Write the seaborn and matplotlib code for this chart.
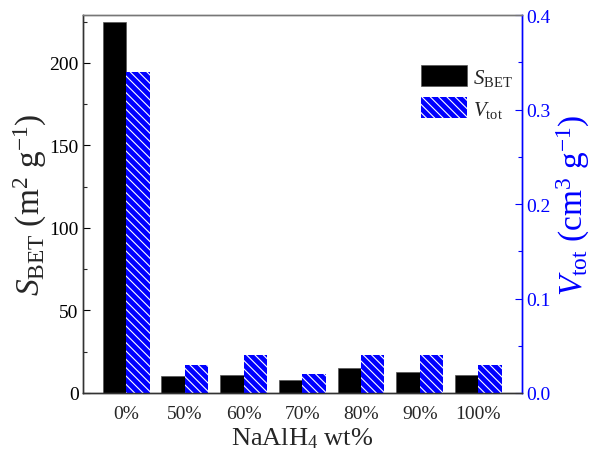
import matplotlib
matplotlib.use("Agg")
import matplotlib.pyplot as plt
import seaborn as sns
import pandas as pd
import numpy as np
from matplotlib.patches import Patch
from matplotlib.ticker import MultipleLocator

categories = ["0%", "50%", "60%", "70%", "80%", "90%", "100%"]
s_bet = [225, 10, 11, 8, 15, 13, 11]
v_tot = [0.34, 0.03, 0.04, 0.02, 0.04, 0.04, 0.03]

sns.set_theme(style="white")
plt.rcParams["font.family"] = ["Liberation Serif", "DejaVu Serif"]
plt.rcParams["mathtext.fontset"] = "custom"
plt.rcParams["mathtext.rm"] = "Liberation Serif"
plt.rcParams["mathtext.it"] = "Liberation Serif:italic"
plt.rcParams["hatch.color"] = "white"
plt.rcParams["hatch.linewidth"] = 0.8

BLUE = "#0000FF"

dfS = pd.DataFrame({"cat": categories, "val": s_bet, "series": "S"})
dfV = pd.DataFrame({"cat": categories, "val": v_tot, "series": "V"})

fig = plt.figure(figsize=(5.91, 4.60), dpi=100)
ax = fig.add_axes([0.14, 0.1435, 0.743, 0.8215])
ax2 = ax.twinx()

sns.barplot(data=dfS, x="cat", y="val", hue="series", hue_order=["S", "V"],
            palette={"S": "black", "V": BLUE}, order=categories, ax=ax,
            errorbar=None, dodge=True, width=0.8, legend=False,
            edgecolor="#555555", linewidth=0.5, saturation=1)
sns.barplot(data=dfV, x="cat", y="val", hue="series", hue_order=["S", "V"],
            palette={"S": "black", "V": BLUE}, order=categories, ax=ax2,
            errorbar=None, dodge=True, width=0.8, legend=False,
            edgecolor="white", linewidth=0, saturation=1)
for p in ax2.patches:
    p.set_hatch("\\\\\\\\")
    p.set_edgecolor("white")
    p.set_linewidth(0)

ax.set_xlim(-0.74, 6.74)
ax.set_ylim(0, 229)
ax2.set_ylim(0, 0.4)

ax.yaxis.set_major_locator(MultipleLocator(50))
ax.yaxis.set_minor_locator(MultipleLocator(25))
ax2.set_yticks(np.arange(0, 0.41, 0.1))
ax2.set_yticklabels([f"{v:.1f}" for v in np.arange(0, 0.41, 0.1)])
ax2.yaxis.set_minor_locator(MultipleLocator(0.05))

ax.tick_params(axis="y", which="major", direction="in", length=5, width=0.8,
               labelsize=14, colors="black", left=True, pad=3)
ax.tick_params(axis="y", which="minor", direction="in", length=3, width=0.8, left=True)
ax.tick_params(axis="x", bottom=False, labelsize=14, pad=3)
ax2.tick_params(axis="y", which="major", direction="in", length=5, width=0.8,
                labelsize=14, colors=BLUE, right=True, pad=3)
ax2.tick_params(axis="y", which="minor", direction="in", length=3, width=0.8,
                colors=BLUE, right=True)

for a in (ax, ax2):
    for sp in a.spines.values():
        sp.set_linewidth(1.0)
        sp.set_color("#333333")
    a.spines["right"].set_color(BLUE)
    a.spines["top"].set_color("#777777")

ax.set_xlabel("NaAlH$_4$ wt%", fontsize=19, labelpad=2)
ax.set_ylabel("$\\mathit{S}_\\mathrm{BET}$ (m$^{2}$ g$^{-1}$)", fontsize=24, labelpad=0)
ax2.set_ylabel("$\\mathit{V}_\\mathrm{tot}$ (cm$^{3}$ g$^{-1}$)", fontsize=24, color=BLUE,
               rotation=90, labelpad=3)

handles = [Patch(facecolor="black", edgecolor="#555555", linewidth=0.5),
           Patch(facecolor=BLUE, edgecolor="white", hatch="\\\\\\\\", linewidth=0)]
ax.legend(handles, ["$S_\\mathrm{BET}$", "$V_\\mathrm{tot}$"], frameon=False,
          fontsize=15, loc="upper left", bbox_to_anchor=(0.77, 0.868),
          handlelength=2.2, handleheight=1.2, handletextpad=0.3,
          labelspacing=0.45, borderaxespad=0, borderpad=0)

fig.savefig("out.png", dpi=100)
